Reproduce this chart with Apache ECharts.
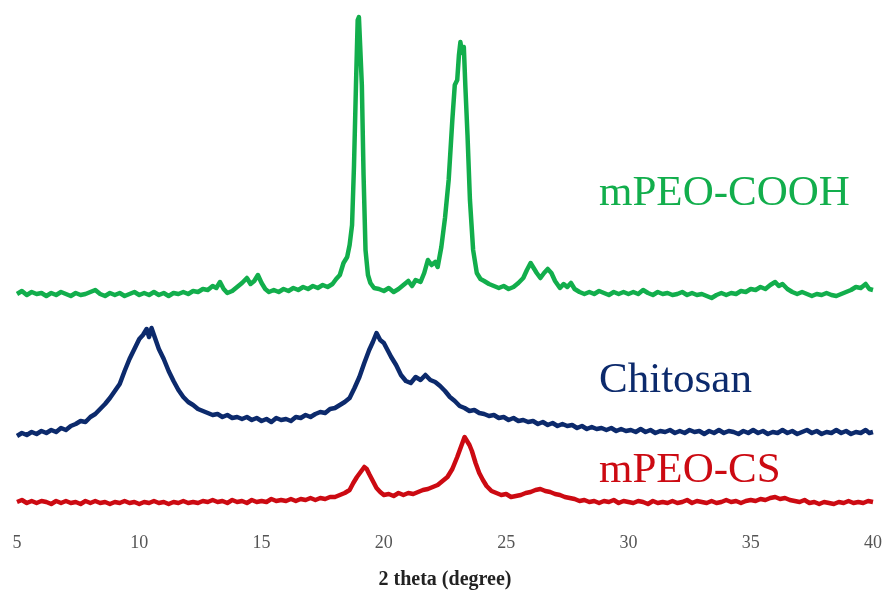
<!DOCTYPE html>
<html><head><meta charset="utf-8">
<script src="https://cdn.jsdelivr.net/npm/echarts@6/dist/echarts.min.js"></script>
<style>html,body{margin:0;padding:0;background:#fff}#c{width:886px;height:600px}</style>
</head><body><div id="c"></div>
<script>
// 2 theta (degree) tick labels
var xTicks = [5, 10, 15, 20, 25, 30, 35, 40];
var seriesNames = ['mPEO-COOH', 'Chitosan', 'mPEO-CS'];
// [2theta, offset intensity (a.u.)]
var mpeoCooh = [[5.0,231],[5.2,234],[5.4,230],[5.6,233],[5.8,231],[6.0,232],[6.2,229],[6.4,232],[6.6,230],[6.8,233],[7.0,231],[7.2,229],[7.4,232],[7.6,230],[7.8,231],[8.0,233],[8.2,235],[8.4,231],[8.6,229],[8.8,232],[9.0,230],[9.2,232],[9.4,229],[9.6,231],[9.8,233],[10.0,230],[10.2,232],[10.4,230],[10.6,233],[10.8,230],[11.0,232],[11.2,229],[11.4,232],[11.6,231],[11.8,233],[12.0,231],[12.2,234],[12.4,233],[12.6,236],[12.8,235],[13.0,239],[13.15,237],[13.3,243],[13.45,236],[13.6,232],[13.8,234],[14.0,238],[14.2,242],[14.4,247],[14.55,241],[14.7,244],[14.85,250],[15.0,242],[15.15,236],[15.3,233],[15.5,235],[15.7,233],[15.9,236],[16.1,234],[16.3,237],[16.5,235],[16.7,238],[16.9,236],[17.1,239],[17.3,237],[17.5,240],[17.7,238],[17.9,241],[18.05,246],[18.2,250],[18.35,262],[18.5,268],[18.6,280],[18.7,300],[18.78,360],[18.86,440],[18.93,505],[18.98,508],[19.03,480],[19.1,440],[19.17,350],[19.25,275],[19.35,250],[19.45,242],[19.6,237],[19.8,236],[20.0,234],[20.2,237],[20.4,233],[20.6,236],[20.8,240],[21.0,244],[21.15,239],[21.3,245],[21.5,243],[21.65,252],[21.8,265],[21.95,260],[22.1,263],[22.2,258],[22.35,278],[22.5,307],[22.65,345],[22.8,405],[22.9,440],[23.0,445],[23.07,470],[23.13,483],[23.2,472],[23.27,478],[23.33,440],[23.42,390],[23.52,325],[23.65,275],[23.8,252],[23.95,246],[24.1,244],[24.3,241],[24.5,239],[24.7,237],[24.9,239],[25.1,236],[25.3,238],[25.5,242],[25.7,247],[25.85,255],[26.0,262],[26.1,258],[26.25,252],[26.4,247],[26.55,252],[26.7,256],[26.85,252],[27.0,244],[27.2,237],[27.35,241],[27.5,238],[27.65,242],[27.8,236],[28.0,233],[28.2,231],[28.4,233],[28.6,231],[28.8,234],[29.0,232],[29.2,230],[29.4,233],[29.6,231],[29.8,233],[30.0,231],[30.2,233],[30.4,231],[30.6,235],[30.8,232],[31.0,230],[31.2,233],[31.4,231],[31.6,232],[31.8,230],[32.0,231],[32.2,233],[32.4,230],[32.6,232],[32.8,230],[33.0,231],[33.2,229],[33.4,227],[33.6,230],[33.8,232],[34.0,230],[34.2,232],[34.4,231],[34.6,234],[34.8,233],[35.0,236],[35.2,235],[35.4,238],[35.6,236],[35.8,240],[36.0,243],[36.15,239],[36.3,241],[36.5,236],[36.7,233],[36.9,231],[37.1,233],[37.3,231],[37.5,229],[37.7,231],[37.9,230],[38.1,232],[38.3,230],[38.5,229],[38.7,231],[38.9,233],[39.1,235],[39.3,238],[39.5,237],[39.7,241],[39.85,236],[40.0,235]];
var chitosan = [[5.0,89],[5.2,92],[5.4,90],[5.6,93],[5.8,91],[6.0,94],[6.2,92],[6.4,95],[6.6,93],[6.8,97],[7.0,95],[7.2,99],[7.4,101],[7.6,104],[7.8,103],[8.0,108],[8.2,111],[8.4,116],[8.6,121],[8.8,127],[9.0,134],[9.2,141],[9.4,154],[9.6,166],[9.8,176],[10.0,186],[10.15,190],[10.3,196],[10.4,188],[10.5,197],[10.6,190],[10.7,183],[10.8,176],[11.0,166],[11.2,154],[11.4,144],[11.6,135],[11.8,128],[12.0,123],[12.2,120],[12.4,116],[12.6,114],[12.8,112],[13.0,110],[13.2,111],[13.4,108],[13.6,110],[13.8,107],[14.0,108],[14.2,106],[14.4,108],[14.6,105],[14.8,107],[15.0,104],[15.2,106],[15.4,103],[15.6,107],[15.8,105],[16.0,106],[16.2,104],[16.4,108],[16.6,107],[16.8,110],[17.0,108],[17.2,111],[17.4,113],[17.6,112],[17.8,116],[18.0,117],[18.2,120],[18.4,123],[18.6,127],[18.8,137],[19.0,148],[19.2,162],[19.4,175],[19.55,183],[19.7,192],[19.85,185],[20.0,182],[20.15,175],[20.3,168],[20.5,160],[20.7,150],[20.9,144],[21.1,142],[21.3,148],[21.5,145],[21.7,150],[21.9,145],[22.1,143],[22.3,139],[22.5,134],[22.7,128],[22.9,124],[23.1,119],[23.3,117],[23.5,114],[23.7,115],[23.9,112],[24.1,111],[24.3,109],[24.5,110],[24.7,107],[24.9,108],[25.1,105],[25.3,107],[25.5,104],[25.7,105],[25.9,103],[26.1,104],[26.3,101],[26.5,103],[26.7,100],[26.9,102],[27.1,99],[27.3,101],[27.5,99],[27.7,100],[27.9,97],[28.1,99],[28.3,96],[28.5,98],[28.7,96],[28.9,97],[29.1,95],[29.3,97],[29.5,94],[29.7,96],[29.9,94],[30.1,95],[30.3,93],[30.5,96],[30.7,93],[30.9,95],[31.1,92],[31.3,94],[31.5,93],[31.7,95],[31.9,92],[32.1,94],[32.3,92],[32.5,95],[32.7,93],[32.9,94],[33.1,91],[33.3,94],[33.5,92],[33.7,95],[33.9,92],[34.1,94],[34.3,93],[34.5,91],[34.7,94],[34.9,92],[35.1,95],[35.3,92],[35.5,94],[35.7,91],[35.9,93],[36.1,92],[36.3,95],[36.5,92],[36.7,94],[36.9,91],[37.1,93],[37.3,95],[37.5,92],[37.7,94],[37.9,91],[38.1,93],[38.3,92],[38.5,95],[38.7,92],[38.9,94],[39.1,91],[39.3,93],[39.5,92],[39.7,95],[39.85,92],[40.0,93]];
var mpeoCs = [[5.0,23],[5.2,25],[5.4,22],[5.6,24],[5.8,22],[6.0,24],[6.2,23],[6.4,21],[6.6,24],[6.8,22],[7.0,24],[7.2,22],[7.4,23],[7.6,21],[7.8,24],[8.0,22],[8.2,24],[8.4,22],[8.6,23],[8.8,21],[9.0,23],[9.2,22],[9.4,24],[9.6,22],[9.8,23],[10.0,21],[10.2,23],[10.4,22],[10.6,24],[10.8,22],[11.0,23],[11.2,21],[11.4,23],[11.6,22],[11.8,24],[12.0,22],[12.2,23],[12.4,22],[12.6,24],[12.8,23],[13.0,25],[13.2,23],[13.4,24],[13.6,22],[13.8,25],[14.0,23],[14.2,24],[14.4,22],[14.6,25],[14.8,23],[15.0,24],[15.2,23],[15.4,26],[15.6,24],[15.8,25],[16.0,24],[16.2,26],[16.4,24],[16.6,26],[16.8,25],[17.0,27],[17.2,25],[17.4,27],[17.6,26],[17.8,28],[18.0,28],[18.2,30],[18.4,32],[18.6,35],[18.75,42],[18.9,48],[19.05,53],[19.2,58],[19.3,56],[19.4,51],[19.55,44],[19.7,37],[19.85,33],[20.0,30],[20.2,31],[20.4,29],[20.6,32],[20.8,30],[21.0,32],[21.2,31],[21.4,33],[21.6,35],[21.8,36],[22.0,38],[22.2,40],[22.4,44],[22.6,48],[22.8,56],[23.0,68],[23.15,78],[23.3,88],[23.4,84],[23.5,80],[23.6,74],[23.75,62],[23.9,52],[24.05,45],[24.2,39],[24.4,34],[24.6,32],[24.8,30],[25.0,31],[25.2,28],[25.4,29],[25.6,30],[25.8,32],[26.0,33],[26.2,35],[26.4,36],[26.6,34],[26.8,33],[27.0,31],[27.2,30],[27.4,28],[27.6,27],[27.8,26],[28.0,24],[28.2,25],[28.4,23],[28.6,24],[28.8,22],[29.0,24],[29.2,23],[29.4,25],[29.6,22],[29.8,24],[30.0,23],[30.2,22],[30.4,24],[30.6,23],[30.8,21],[31.0,24],[31.2,22],[31.4,23],[31.6,22],[31.8,24],[32.0,22],[32.2,23],[32.4,25],[32.6,22],[32.8,24],[33.0,23],[33.2,22],[33.4,24],[33.6,22],[33.8,23],[34.0,25],[34.2,23],[34.4,24],[34.6,22],[34.8,24],[35.0,25],[35.2,24],[35.4,26],[35.6,25],[35.8,27],[36.0,28],[36.2,26],[36.4,27],[36.6,25],[36.8,24],[37.0,23],[37.2,25],[37.4,22],[37.6,23],[37.8,21],[38.0,23],[38.2,22],[38.4,21],[38.6,23],[38.8,22],[39.0,24],[39.2,22],[39.4,23],[39.6,22],[39.8,24],[40.0,23]];

var colors = ['#12ae4c', '#0c2a6c', '#cc0a12'];
var serif = '"Liberation Serif", "Times New Roman", serif';
var chart = echarts.init(document.getElementById('c'));
var dataSets = [mpeoCooh, chitosan, mpeoCs];
chart.setOption({
  animation: false,
  backgroundColor: '#fff',
  grid: {left: 17, right: 13, top: 10, bottom: 75},
  xAxis: {
    type: 'value', min: xTicks[0], max: xTicks[xTicks.length - 1], interval: 5,
    name: '2 theta (degree)', nameLocation: 'middle', nameGap: 45,
    nameTextStyle: {fontFamily: serif, fontWeight: 'bold', fontSize: 20, color: '#222'},
    axisLine: {show: false}, axisTick: {show: false}, splitLine: {show: false},
    axisLabel: {margin: 9, fontFamily: serif, fontSize: 18, color: '#555', showMinLabel: true, showMaxLabel: true}
  },
  yAxis: {type: 'value', min: 0, max: 515, show: false, splitLine: {show: false}},
  series: dataSets.map(function (d, i) {
    return {
      name: seriesNames[i], type: 'line', data: d, symbol: 'none',
      lineStyle: {width: 4.5, color: colors[i], join: 'round'}, z: 3 - i
    };
  }),
  graphic: [
    {type: 'text', left: 599, top: 172, style: {text: seriesNames[0], font: '43px ' + serif, fill: colors[0]}},
    {type: 'text', left: 599, top: 359, style: {text: seriesNames[1], font: '43px ' + serif, fill: colors[1]}},
    {type: 'text', left: 599, top: 449, style: {text: seriesNames[2], font: '43px ' + serif, fill: colors[2]}}
  ]
});
</script></body></html>
